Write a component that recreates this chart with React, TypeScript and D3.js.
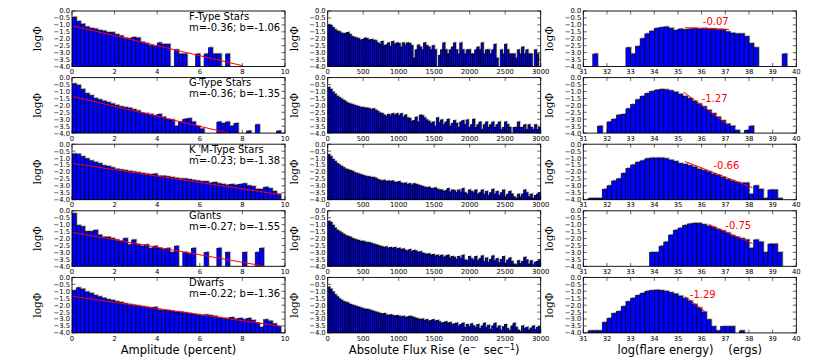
import React from 'react';
import * as d3 from 'd3';

const W = 830;
const H = 363;

// axes layout (pixels)
const AX_LEFT = [72, 327.7, 583.3];
const AX_TOP = [11, 77.6, 144.2, 210.8, 277.4];
const AX_W = 213;
const AX_H = 55.5;

const Y_TICKS = [0, -0.5, -1, -1.5, -2, -2.5, -3, -3.5, -4];
const AMP_TICKS = [0, 2, 4, 6, 8, 10];
const FLUX_TICKS = [0, 500, 1000, 1500, 2000, 2500, 3000];
const ENERGY_TICKS = [31, 32, 33, 34, 35, 36, 37, 38, 39, 40];

const STAR_CLASSES = ['F-Type Stars', 'G-Type Stars', 'K_M-Type Stars', 'Giants', 'Dwarfs'];

// amplitude histograms, log phi per 0.2 percent bin (0 - 10)
const AMP_F = [
  -0.45, -0.75, -0.95, -1.15, -1.25, -1.3, -1.4, -1.45, -1.55, -1.55,
  -1.7, -1.8, -1.95, -2.0, -1.9, -1.95, -2.25, -2.35, -2.5, -2.55,
  -2.3, -2.4, -2.4, null, -2.8, -3.1, -3.1, null, null, -3.1,
  null, -3.1, -2.65, -3.1, -3.1, null, -3.1, null, null, null,
  null, null, null, null, null, null, null, null, null, null,
];
const AMP_G = [
  -0.45, -0.55, -0.85, -1.15, -1.3, -1.5, -1.6, -1.7, -1.8, -1.9,
  -2.0, -2.1, -2.15, -2.2, -2.3, -2.4, -2.55, -2.6, -2.65, -2.75,
  -2.65, -2.85, -3.0, -3.05, -3.5, -3.2, -3.0, -2.95, -3.2, -3.5,
  -3.7, null, null, null, -3.2, -3.3, -3.2, -3.5, -3.3, null,
  null, -3.85, null, -3.4, null, null, null, null, -3.85, null,
];
const AMP_KM = [
  -0.7, -0.72, -0.9, -1.05, -1.2, -1.3, -1.4, -1.55, -1.6, -1.7,
  -1.8, -1.85, -1.9, -1.95, -2.0, -2.05, -2.1, -2.15, -2.2, -2.15,
  -2.3, -2.3, -2.35, -2.4, -2.45, -2.5, -2.5, -2.55, -2.6, -2.65,
  -2.7, -2.7, -2.8, -2.75, -2.85, -2.9, -2.95, -2.9, -2.95, -2.9,
  -2.85, -3.0, -3.05, -3.25, -3.25, -3.1, -3.2, -3.4, -3.6, null,
];
const AMP_GIANT = [
  -0.2, -1.05, -1.15, -1.5, -1.5, -1.4, -1.75, -1.9, -1.9, -2.0,
  -2.1, -2.2, -2.0, -2.45, -2.1, -2.45, -2.55, -2.45, -2.7, -2.55,
  -2.7, -2.8, -2.7, -3.0, -2.55, null, -3.0, -3.1, -2.7, null,
  null, -3.0, null, null, -2.7, null, -3.0, null, null, null,
  -3.0, null, null, -3.0, -2.7, null, null, null, null, null,
];
const AMP_DWARF = [
  -0.95, -0.75, -0.85, -1.05, -1.15, -1.3, -1.4, -1.5, -1.6, -1.65,
  -1.75, -1.8, -1.9, -1.95, -2.0, -2.05, -2.1, -2.15, -2.2, -2.15,
  -2.35, -2.4, -2.4, -2.45, -2.5, -2.5, -2.55, -2.6, -2.65, -2.7,
  -2.75, -2.7, -2.75, -2.8, -2.9, -2.95, -2.95, -2.9, -3.0, -2.95,
  -3.05, -2.95, -3.1, -3.3, -3.6, -3.05, -3.15, -3.35, -3.55, null,
];

// absolute flux rise histograms, log phi per 30 e-/s bin (0 - 3000)
const FLUX_F = [
  -1.0, -1.05, -1.2, -1.35, -1.45, -1.5, -1.6, -1.65, -1.6, -1.55,
  -1.7, -1.85, -1.9, -1.95, -2.0, -2.1, -2.05, -1.95, -2.0, -2.1,
  -2.05, -2.1, -2.15, -2.3, -2.4, -2.2, -2.5, -2.45, -2.3, -2.55,
  -2.2, -2.4, -2.3, -2.35, -2.6, -2.3, -2.45, -2.3, -2.35, -2.5,
  -3.4, -2.8, -2.45, -2.6, -2.8, -2.3, -2.5, -2.6, -2.8, -2.5,
  -2.8, null, -3.2, -2.8, -2.3, -2.8, -3.1, -2.8, -2.6, -2.3,
  -2.8, -3.1, -2.3, -2.8, -3.1, -2.8, -2.8, -3.1, -3.1, -2.8,
  -2.6, -2.8, -2.3, -3.1, -2.8, -2.8, -3.1, -2.8, -2.4, -3.4,
  null, -2.8, -3.1, -2.4, -2.8, -3.1, -3.1, -3.1, -3.4, -2.8,
  -3.1, -2.6, -3.1, -2.8, -3.1, -3.1, null, -2.8, -3.1, null,
];
const FLUX_G = [
  -0.7, -0.85, -1.05, -1.2, -1.35, -1.45, -1.55, -1.65, -1.75, -1.85,
  -1.9, -1.95, -2.0, -2.05, -2.1, -2.15, -2.15, -2.2, -2.2, -2.25,
  -2.3, -2.25, -2.35, -2.45, -2.55, -2.6, -2.7, -2.8, -2.65, -2.75,
  -2.6, -2.7, -2.6, -2.75, -2.6, -2.85, -2.7, -2.9, -2.95, -3.15,
  -3.1, -2.85, -3.2, -2.7, -2.75, -2.9, -3.05, -3.15, -3.3, -3.2,
  -3.5, -2.9, -3.25, -3.05, -3.4, -3.2, -3.0, -3.5, -3.3, -3.1,
  -3.3, -3.6, -3.2, -3.1, -3.4, -3.05, -3.6, -3.4, -3.0, -3.6,
  -3.4, -3.2, -3.75, -3.4, -3.2, -3.6, -3.4, -3.2, -3.6, -3.4,
  -3.2, -3.75, -3.6, -3.2, -3.4, -3.6, null, -3.6, -3.6, -3.2,
  -3.6, -3.6, -3.4, -3.75, -3.4, -3.6, -3.75, -3.4, -3.75, -3.6,
];
const FLUX_KM = [
  -0.75, -0.9, -1.1, -1.25, -1.4, -1.5, -1.6, -1.7, -1.8, -1.85,
  -1.9, -1.95, -2.05, -2.1, -2.15, -2.2, -2.25, -2.3, -2.35, -2.35,
  -2.4, -2.4, -2.45, -2.55, -2.6, -2.65, -2.6, -2.7, -2.65, -2.7,
  -2.65, -2.75, -2.75, -2.7, -2.8, -2.85, -2.8, -2.9, -2.85, -2.95,
  -2.85, -2.9, -2.95, -3.0, -3.05, -3.1, -3.15, -3.1, -3.2, -3.2,
  -3.15, -3.25, -3.3, -3.3, -3.4, -3.35, -3.2, -3.45, -3.3, -3.35,
  -3.5, -3.3, -3.45, -3.2, -3.5, -3.6, -3.3, -3.4, -3.5, -3.3,
  -3.6, -3.5, -3.3, -3.6, -3.4, -3.7, -3.5, -3.25, -3.6, -3.4,
  -3.7, -3.5, -3.3, -3.8, -3.6, -3.4, -3.6, -3.8, -3.9, -3.6,
  -3.8, -3.6, -3.3, -3.5, -3.8, -3.6, -3.9, -3.7, -3.6, -3.5,
];
const FLUX_GIANT = [
  -0.75, -0.85, -1.05, -1.25, -1.4, -1.5, -1.6, -1.7, -1.8, -1.85,
  -1.9, -2.0, -2.05, -2.1, -2.15, -2.2, -2.2, -2.25, -2.3, -2.3,
  -2.35, -2.4, -2.45, -2.5, -2.55, -2.6, -2.65, -2.6, -2.7, -2.65,
  -2.7, -2.65, -2.75, -2.7, -2.8, -2.75, -2.85, -2.9, -2.8, -2.95,
  -2.85, -2.9, -3.0, -2.95, -3.05, -3.1, -3.15, -3.1, -3.2, -3.15,
  -3.25, -3.2, -3.3, -3.2, -3.35, -3.25, -3.2, -3.4, -3.3, -3.35,
  -3.5, -3.3, -3.45, -3.2, -3.55, -3.6, -3.3, -3.45, -3.55, -3.3,
  -3.6, -3.45, -3.25, -3.65, -3.4, -3.7, -3.5, -3.25, -3.6, -3.45,
  -3.75, -3.5, -3.3, -3.8, -3.55, -3.4, -3.65, -3.85, -3.9, -3.6,
  -3.8, -3.65, -3.35, -3.55, -3.85, -3.6, -3.9, -3.7, -3.65, -3.55,
];
const FLUX_DWARF = [
  -0.7, -0.85, -1.05, -1.25, -1.4, -1.55, -1.65, -1.75, -1.8, -1.85,
  -1.95, -2.0, -2.05, -2.1, -2.15, -2.2, -2.25, -2.3, -2.3, -2.35,
  -2.4, -2.45, -2.5, -2.55, -2.6, -2.65, -2.6, -2.7, -2.75, -2.7,
  -2.75, -2.8, -2.75, -2.8, -2.85, -2.8, -2.9, -2.85, -2.8, -2.85,
  -2.9, -2.95, -3.0, -3.05, -3.0, -3.1, -3.05, -3.15, -3.1, -3.05,
  -3.15, -3.1, -3.2, -3.3, -3.25, -3.2, -3.3, -3.25, -3.4, -3.35,
  -3.3, -3.5, -3.4, -3.3, -3.6, -3.4, -3.55, -3.35, -3.5, -3.6,
  -3.4, -3.7, -3.5, -3.3, -3.6, -3.45, -3.75, -3.5, -3.3, -3.65,
  -3.5, -3.8, -3.55, -3.4, -3.7, -3.85, -3.5, -3.3, -3.6, -3.8,
  -3.9, -3.5, -3.7, -3.6, -3.8, -3.65, -3.5, -3.75, -3.6, -3.55,
];

// flare energy histograms, log phi per 0.2 dex bin (31 - 40)
const ENERGY_F = [
  null, null, -3.1, null, null, null, null, null, null, -2.65,
  -3.1, -2.55, -2.0, -1.65, -1.45, -1.25, -1.2, -1.15, -1.25, -1.4,
  -1.3, -1.35, -1.3, -1.25, -1.3, -1.25, -1.3, -1.3, -1.35, -1.35,
  -1.5, -1.6, -1.65, -1.65, -1.85, -2.35, -2.65, null, null, null,
  null, null, -3.1, null, null,
];
const ENERGY_G = [
  null, null, null, -3.5, null, -3.2, -3.0, -2.7, -2.65, -2.25,
  -1.95, -1.6, -1.35, -1.15, -1.0, -0.9, -0.85, -0.88, -0.95, -1.05,
  -1.2, -1.35, -1.5, -1.7, -1.9, -2.1, -2.35, -2.6, -2.85, -3.1,
  -3.35, -3.5, -3.8, null, -3.8, -3.5, null, null, null, null,
  null, null, null, null, null,
];
const ENERGY_KM = [
  null, -3.9, -3.9, -3.9, -3.25, -3.0, -2.65, -2.5, -2.1, -1.75,
  -1.5, -1.3, -1.2, -1.05, -1.0, -1.0, -1.0, -1.05, -1.15, -1.25,
  -1.4, -1.45, -1.55, -1.65, -1.8, -1.9, -2.0, -2.15, -2.25, -2.4,
  -2.55, -2.65, -2.75, -2.8, -2.8, -3.6, -3.0, -3.25, -3.9, -3.3,
  -3.3, -3.9, null, null, null,
];
const ENERGY_GIANT = [
  null, null, null, null, null, null, null, null, null, null,
  null, null, null, null, -3.0, -3.0, -2.55, -2.25, -1.75, -1.4,
  -1.25, -1.05, -0.95, -0.9, -0.9, -1.0, -1.1, -1.2, -1.35, -1.45,
  -1.6, -1.8, -1.9, -2.0, -2.1, -2.7, -2.1, -2.25, -3.0, -2.4,
  -2.4, -3.0, null, null, null,
];
const ENERGY_DWARF = [
  null, -3.85, -3.85, -3.85, -3.25, -2.95, -2.6, -2.45, -2.1, -1.75,
  -1.5, -1.3, -1.15, -1.0, -0.95, -0.92, -0.95, -1.0, -1.1, -1.2,
  -1.35, -1.5, -1.7, -1.95, -2.2, -2.5, -3.05, -3.55, -3.85, -3.55,
  -3.55, -3.55, null, -3.85, null, null, null, null, null, null,
  null, null, null, null, null,
];

// power-law fits on the amplitude panels
const AMP_SLOPES = [-0.36, -0.36, -0.23, -0.27, -0.22];
const AMP_INTERCEPTS = [-1.06, -1.35, -1.38, -1.55, -1.36];
const AMP_FIT_START = [0.05, 0.05, 0.05, 0.05, 0.05];
const AMP_FIT_END = [8.0, 7.3, 9.8, 9.0, 9.8];

// fits on the high energy tails
const ENERGY_SLOPES = [-0.07, -1.27, -0.66, -0.75, -1.29];
const ENERGY_FIT_X0 = [35.3, 35.25, 35.3, 36.3, 35.3];
const ENERGY_FIT_Y0 = [-1.2, -1.05, -1.25, -0.98, -1.38];
const ENERGY_FIT_X1 = [37.15, 37.15, 38.15, 38.15, 36.15];
const ENERGY_LABEL_AT = [[36.05, -0.98], [36.0, -1.78], [36.5, -1.81], [37.0, -1.32], [35.5, -1.5]];

const AMP_DATA = [AMP_F, AMP_G, AMP_KM, AMP_GIANT, AMP_DWARF];
const FLUX_DATA = [FLUX_F, FLUX_G, FLUX_KM, FLUX_GIANT, FLUX_DWARF];
const ENERGY_DATA = [ENERGY_F, ENERGY_G, ENERGY_KM, ENERGY_GIANT, ENERGY_DWARF];

const SANS = 'DejaVu Sans, sans-serif';
const SERIF = 'DejaVu Serif, serif';
const TICK_FS = 6.8;

const fmtY = (d: number) => (d === 0 ? '0.0' : d.toFixed(1).replace('-', '\u2212'));

type PanelProps = {
  id: string;
  left: number;
  top: number;
  values: (number | null)[];
  lo: number;
  hi: number;
  binW: number;
  ticks: number[];
  edge?: number;
  overlay?: (x: d3.ScaleLinear<number, number>, y: d3.ScaleLinear<number, number>) => React.ReactNode;
};

function Panel({ id, left, top, values, lo, hi, binW, ticks, edge = 0.6, overlay }: PanelProps) {
  const x = d3.scaleLinear().domain([lo, hi]).range([0, AX_W]);
  const y = d3.scaleLinear().domain([-4, 0]).range([AX_H, 0]);
  const tl = 3.5;

  const bars = values
    .map((v, i) => ({ v, x0: lo + i * binW, x1: lo + (i + 1) * binW }))
    .filter((b) => b.v !== null);

  return (
    <g transform={`translate(${left},${top})`}>
      <defs>
        <clipPath id={id}>
          <rect x={0} y={0} width={AX_W} height={AX_H} />
        </clipPath>
      </defs>
      <g clipPath={`url(#${id})`}>
        {bars.map((b, i) => (
          <rect
            key={`s${i}`}
            x={x(b.x0) + 1.2}
            y={y(b.v as number) - 1.2}
            width={x(b.x1) - x(b.x0)}
            height={AX_H - y(b.v as number) + 2}
            fill="#808080"
            opacity={0.75}
          />
        ))}
        {bars.map((b, i) => (
          <rect
            key={`b${i}`}
            x={x(b.x0)}
            y={y(b.v as number)}
            width={x(b.x1) - x(b.x0)}
            height={AX_H - y(b.v as number)}
            fill="#0000ff"
            stroke="#000"
            strokeWidth={edge}
          />
        ))}
        {overlay && overlay(x, y)}
      </g>
      {Y_TICKS.map((t) => (
        <g key={`y${t}`}>
          <line x1={0} x2={tl} y1={y(t)} y2={y(t)} stroke="#000" strokeWidth={0.6} />
          <line x1={AX_W - tl} x2={AX_W} y1={y(t)} y2={y(t)} stroke="#000" strokeWidth={0.6} />
          <text
            x={-2}
            y={y(t)}
            dy="0.36em"
            textAnchor="end"
            fontFamily={SANS}
            fontSize={TICK_FS}
            fill="#000"
          >
            {fmtY(t)}
          </text>
        </g>
      ))}
      {ticks.map((t) => (
        <g key={`x${t}`}>
          <line x1={x(t)} x2={x(t)} y1={AX_H} y2={AX_H - tl} stroke="#000" strokeWidth={0.6} />
          <line x1={x(t)} x2={x(t)} y1={0} y2={tl} stroke="#000" strokeWidth={0.6} />
          <text
            x={x(t)}
            y={AX_H + 2.5}
            dy="0.76em"
            textAnchor="middle"
            fontFamily={SANS}
            fontSize={TICK_FS}
            fill="#000"
          >
            {t}
          </text>
        </g>
      ))}
      <rect x={0} y={0} width={AX_W} height={AX_H} fill="none" stroke="#000" strokeWidth={0.9} />
      <text
        transform={`translate(${left === AX_LEFT[0] ? -31 : -30},${AX_H / 2}) rotate(-90)`}
        textAnchor="middle"
        fontFamily={SERIF}
        fontSize={10.5}
        fill="#000"
      >
        log&#934;
      </text>
    </g>
  );
}

export default function App() {
  return (
    <svg
      width={W}
      height={H}
      viewBox={`0 0 ${W} ${H}`}
      style={{ position: 'absolute', left: 0, top: 0, background: '#fff' }}
    >
      <rect width={W} height={H} fill="#fff" />
      {STAR_CLASSES.map((name, r) => (
        <g key={name}>
          <Panel
            id={`amp${r}`}
            left={AX_LEFT[0]}
            top={AX_TOP[r]}
            values={AMP_DATA[r]}
            lo={0}
            hi={10}
            binW={0.2}
            ticks={AMP_TICKS}
            overlay={(x, y) => (
              <g>
                <line
                  x1={x(AMP_FIT_START[r])}
                  x2={x(AMP_FIT_END[r])}
                  y1={y(AMP_INTERCEPTS[r] + AMP_SLOPES[r] * AMP_FIT_START[r])}
                  y2={y(AMP_INTERCEPTS[r] + AMP_SLOPES[r] * AMP_FIT_END[r])}
                  stroke="#ff0000"
                  strokeWidth={1}
                />
                <text x={117} y={8.6} fontFamily={SANS} fontSize={10} fill="#000">
                  {name}
                </text>
                <text x={117} y={19.6} fontFamily={SANS} fontSize={10} fill="#000">
                  {`m=${AMP_SLOPES[r].toFixed(2)}; b=${AMP_INTERCEPTS[r].toFixed(2)}`}
                </text>
              </g>
            )}
          />
          <Panel
            id={`flux${r}`}
            left={AX_LEFT[1]}
            top={AX_TOP[r]}
            values={FLUX_DATA[r]}
            lo={0}
            hi={3000}
            binW={30}
            ticks={FLUX_TICKS}
            edge={0.8}
          />
          <Panel
            id={`en${r}`}
            left={AX_LEFT[2]}
            top={AX_TOP[r]}
            values={ENERGY_DATA[r]}
            lo={31}
            hi={40}
            binW={0.2}
            ticks={ENERGY_TICKS}
            overlay={(x, y) => (
              <g>
                <line
                  x1={x(ENERGY_FIT_X0[r])}
                  x2={x(ENERGY_FIT_X1[r])}
                  y1={y(ENERGY_FIT_Y0[r])}
                  y2={y(ENERGY_FIT_Y0[r] + ENERGY_SLOPES[r] * (ENERGY_FIT_X1[r] - ENERGY_FIT_X0[r]))}
                  stroke="#ff0000"
                  strokeWidth={1}
                />
                <text
                  x={x(ENERGY_LABEL_AT[r][0])}
                  y={y(ENERGY_LABEL_AT[r][1])}
                  fontFamily={SANS}
                  fontSize={10}
                  fill="#ff0000"
                >
                  {ENERGY_SLOPES[r].toFixed(2)}
                </text>
              </g>
            )}
          />
        </g>
      ))}
      <text
        x={AX_LEFT[0] + AX_W / 2}
        y={354}
        textAnchor="middle"
        fontFamily={SANS}
        fontSize={11.5}
        fill="#000"
      >
        Amplitude (percent)
      </text>
      <text
        x={AX_LEFT[1] + AX_W / 2}
        y={354}
        textAnchor="middle"
        fontFamily={SANS}
        fontSize={11.5}
        fill="#000"
        style={{ whiteSpace: 'pre' }}
      >
        <tspan>Absolute Flux Rise (e</tspan>
        <tspan dy={-4.5} fontSize={8}>{'\u2212'}</tspan>
        <tspan dy={4.5}>{'  sec'}</tspan>
        <tspan dy={-4.5} fontSize={8}>{'\u22121'}</tspan>
        <tspan dy={4.5}>)</tspan>
      </text>
      <text
        x={AX_LEFT[2] + AX_W / 2}
        y={354}
        textAnchor="middle"
        fontFamily={SANS}
        fontSize={11.5}
        fill="#000"
        style={{ whiteSpace: 'pre' }}
      >
        {'log(flare energy)    (ergs)'}
      </text>
    </svg>
  );
}
